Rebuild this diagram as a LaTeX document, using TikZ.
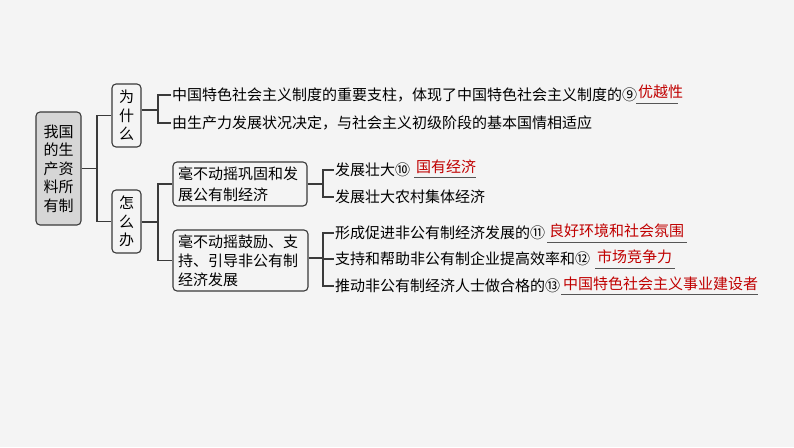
\documentclass[tikz,border=0pt]{standalone}
\usepackage{fontspec}
\setmainfont{Noto Sans CJK SC}
\definecolor{bgc}{HTML}{F4F4F4}
\definecolor{rootfill}{HTML}{D6D6D6}
\definecolor{edgec}{HTML}{3A3A3A}
\definecolor{ansred}{HTML}{C00000}
\definecolor{ulc}{HTML}{555555}
\tikzset{
  box/.style={draw=edgec, line width=1.1pt, rounded corners=4pt, inner sep=0pt, align=left},
  vbox/.style={box, minimum width=29pt, minimum height=63pt, align=center, font=\fontsize{15}{18.5}\selectfont},
  txt/.style={anchor=west, inner sep=1pt, font=\fontsize{15}{18}\selectfont, text=black},
  ans/.style={anchor=west, inner sep=0pt, font=\fontsize{15}{18}\selectfont, text=ansred},
  conn/.style={draw=edgec, line width=1.1pt},
  uline/.style={draw=ulc, line width=1pt},
}
\begin{document}
\begin{tikzpicture}[x=1pt,y=-1pt]
\fill[bgc] (0,0) rectangle (794,447);
\useasboundingbox (0,0) rectangle (794,447);

% root
\node[box, fill=rootfill, minimum width=45pt, minimum height=113pt, align=center,
      font=\fontsize{15}{18.5}\selectfont] (root) at (58.5,168.5) {我国\\的生\\产资\\料所\\有制};

\node[vbox] (wei) at (126.5,115.5) {为\\什\\么};
\node[vbox] (zen) at (126.5,221.5) {怎\\么\\办};

\coordinate (j1) at (97,168.5);
\draw[conn] (root.east) -- (j1);
\draw[conn] (j1) |- (wei.west);
\draw[conn] (j1) |- (zen.west);

% why branch
\node[txt] (t1) at (171,95) {中国特色社会主义制度的重要支柱，体现了中国特色社会主义制度的⑨};
\node[txt] (t2) at (171,123) {由生产力发展状况决定，与社会主义初级阶段的基本国情相适应};
\node[ans] (a1) at (638,92) {优越性};
\coordinate (u1a) at (636,103);
\coordinate (u1b) at (678,103);
\draw[uline] (u1a) -- (u1b);

\coordinate (j2) at (158,110);
\draw[conn] (wei.east |- j2) -- (j2);
\draw[conn] (j2) |- (t1.west);
\draw[conn] (j2) |- (t2.west);

% how branch
\node[box, minimum width=134pt, minimum height=44pt, text width=124pt,
      font=\fontsize{15}{21}\selectfont] (b1) at (240,184) {毫不动摇巩固和发\\展公有制经济};
\node[box, minimum width=135pt, minimum height=61pt, text width=125pt,
      font=\fontsize{15}{19}\selectfont] (b2) at (240.5,260.5) {毫不动摇鼓励、支\\持、引导非公有制\\经济发展};

\coordinate (j3) at (158,222);
\draw[conn] (zen.east |- j3) -- (j3);
\draw[conn] (j3) |- (b1.west);
\draw[conn] (j3) |- (b2.west);

% b1 children
\node[txt] (t3) at (334,170) {发展壮大⑩};
\node[txt] (t4) at (334,197) {发展壮大农村集体经济};
\node[ans] (a3) at (416,167) {国有经济};
\coordinate (u3a) at (414,177);
\coordinate (u3b) at (476,177);
\draw[uline] (u3a) -- (u3b);

\coordinate (j4) at (323,184);
\draw[conn] (b1.east) -- (j4);
\draw[conn] (j4) |- (t3.west);
\draw[conn] (j4) |- (t4.west);

% b2 children
\node[txt] (t5) at (334,233) {形成促进非公有制经济发展的⑪};
\node[txt] (t6) at (334,259) {支持和帮助非公有制企业提高效率和⑫};
\node[txt] (t7) at (334,286) {推动非公有制经济人士做合格的⑬};
\node[ans] (a5) at (549,231) {良好环境和社会氛围};
\node[ans] (a6) at (597,257) {市场竞争力};
\node[ans] (a7) at (563,284) {中国特色社会主义事业建设者};
\coordinate (u5a) at (547,242);
\coordinate (u5b) at (687,242);
\coordinate (u6a) at (595,268);
\coordinate (u6b) at (675,268);
\coordinate (u7a) at (561,294);
\coordinate (u7b) at (758,294);
\draw[uline] (u5a) -- (u5b);
\draw[uline] (u6a) -- (u6b);
\draw[uline] (u7a) -- (u7b);

\coordinate (j5) at (323,258);
\draw[conn] (b2.east |- j5) -- (j5);
\draw[conn] (j5) |- (t5.west);
\draw[conn] (j5) |- (t6.west);
\draw[conn] (j5) |- (t7.west);
\end{tikzpicture}
\end{document}
